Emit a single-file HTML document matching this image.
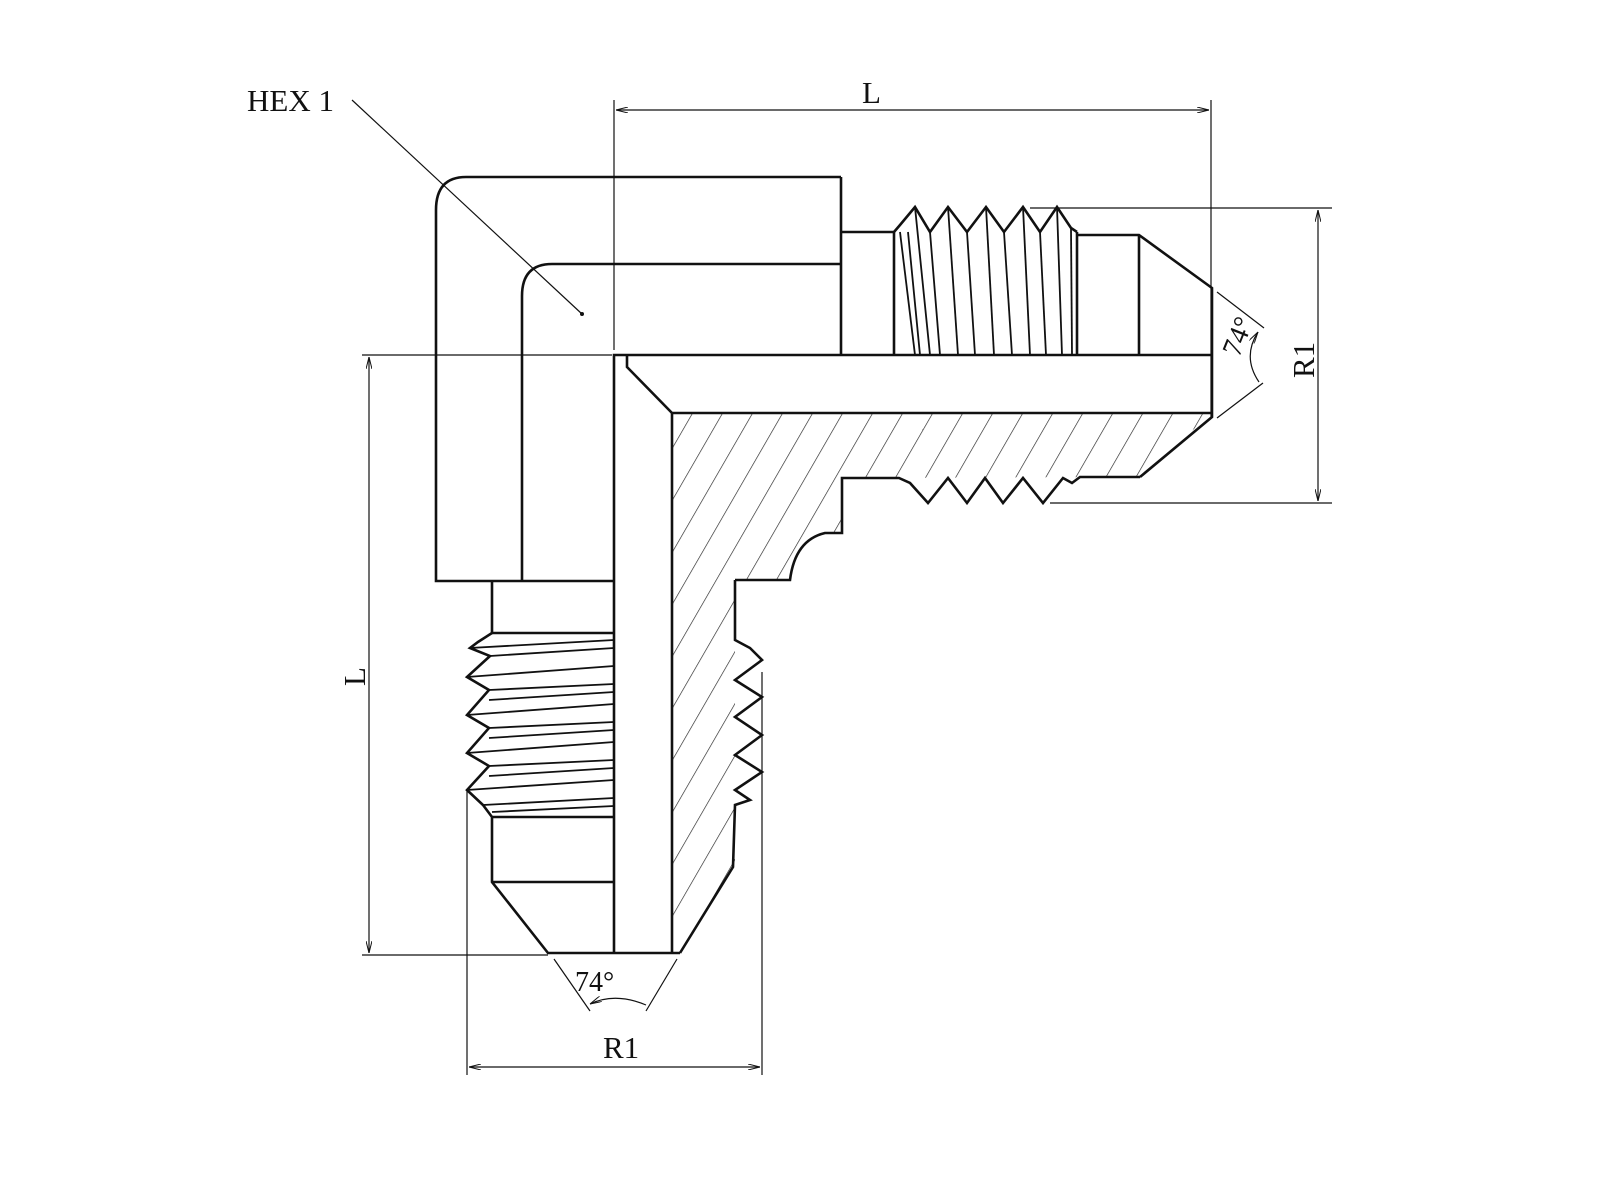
<!DOCTYPE html>
<html><head><meta charset="utf-8"><style>
html,body{margin:0;padding:0;background:#fff;}
svg{display:block;}
text{font-family:"Liberation Serif",serif;fill:#111;}
</style></head><body>
<svg width="1600" height="1200" viewBox="0 0 1600 1200" xmlns="http://www.w3.org/2000/svg">
<defs>
<pattern id="h" patternUnits="userSpaceOnUse" width="26" height="45" patternTransform="rotate(30)">
<line x1="0" y1="0" x2="0" y2="45" stroke="#222" stroke-width="1.3"/>
</pattern>
<marker id="a" viewBox="0 0 12 6" refX="12" refY="3" markerWidth="12" markerHeight="6" orient="auto-start-reverse" markerUnits="userSpaceOnUse">
<path d="M0,0 L12,3 L0,6" fill="none" stroke="#111" stroke-width="1"/>
</marker>
</defs>

<path d="M672,413 L1212,413 L1140,477 L842,478 L842,533 L825,533 Q795,540 790,580 L735,580 L735,867 L680,953 L672,953 Z" fill="url(#h)" stroke="none"/>

<g fill="none" stroke="#111" stroke-width="2.6" stroke-linejoin="miter">
<path d="M841,177 L466,177 Q436,177 436,210 L436,581 L614,581"/>
<path d="M841,264 L552,264 Q522,264 522,296 L522,581"/>
<line x1="841" y1="177" x2="841" y2="355"/>
<path d="M841,232 L894,232"/>
<path d="M894,232 L900,225 L915,207 L930,232 L948,207 L967,232 L986,207 L1004,232 L1023,207 L1040,232 L1057,207 L1071,228 L1077,232"/>
<line x1="894" y1="232" x2="894" y2="355"/>
<line x1="1077" y1="232" x2="1077" y2="355"/>
<path d="M1077,235 L1139,235 L1212,288 L1212,417 L1140,477"/>
<line x1="1139" y1="235" x2="1139" y2="355"/>
<path d="M614,953 L614,355 L1212,355"/>
<path d="M627,355 L627,367 L672,413 L1212,413"/>
<line x1="672" y1="413" x2="672" y2="953"/>
<path d="M1140,477 L1080,477 L1072,483 L1063,478 L1043,503 L1023,478 L1003,503 L985,478 L967,503 L948,478 L928,503 L910,483 L899,478 L842,478 L842,533 L825,533 Q795,540 790,580 L735,580"/>
<path d="M735,580 L735,640 L750,648 L762,660 L735,680 L762,697 L735,717 L762,735 L735,755 L762,772 L735,790 L750,800 L735,805 L733,867 L680,953"/>
<path d="M492,581 L492,633 L614,633"/>
<path d="M492,633 L478,642 L470,648 L490,656 L467,677 L489,690 L467,715 L489,728 L467,753 L489,766 L467,790 L483,805 L492,817 L492,882 L548,953 L680,953"/>
<line x1="492" y1="817" x2="614" y2="817"/>
<line x1="492" y1="882" x2="614" y2="882"/>
</g>
<g fill="none" stroke="#111" stroke-width="1.8">
<path d="M490,656 L614,648"/><path d="M470,648 L614,640"/>
<path d="M467,677 L614,666"/><path d="M489,690 L614,684"/>
<path d="M489,700 L614,692"/>
<path d="M467,715 L614,704"/><path d="M489,728 L614,722"/>
<path d="M489,738 L614,730"/>
<path d="M467,753 L614,742"/><path d="M489,766 L614,760"/>
<path d="M489,776 L614,768"/>
<path d="M467,790 L614,780"/><path d="M483,805 L614,798"/>
<path d="M492,812 L614,806"/>
<path d="M900,232 L915,355"/><path d="M915,207 L930,355"/>
<path d="M930,232 L940,355"/><path d="M948,207 L958,355"/>
<path d="M967,232 L975,355"/><path d="M986,207 L994,355"/>
<path d="M1004,232 L1012,355"/><path d="M1023,207 L1030,355"/>
<path d="M1040,232 L1046,355"/><path d="M1057,207 L1062,355"/>
<path d="M1071,228 L1072,355"/><path d="M908,232 L920,355"/>
</g>

<g fill="none" stroke="#111" stroke-width="1.2">
<line x1="614" y1="100" x2="614" y2="350"/>
<line x1="1211" y1="100" x2="1211" y2="417"/>
<line x1="616" y1="110" x2="1209" y2="110" marker-start="url(#a)" marker-end="url(#a)"/>
<line x1="1030" y1="208" x2="1332" y2="208"/>
<line x1="1050" y1="503" x2="1332" y2="503"/>
<line x1="1318" y1="210" x2="1318" y2="501" marker-start="url(#a)" marker-end="url(#a)"/>
<line x1="362" y1="355" x2="612" y2="355"/>
<line x1="362" y1="955" x2="548" y2="955"/>
<line x1="369" y1="357" x2="369" y2="953" marker-start="url(#a)" marker-end="url(#a)"/>
<line x1="467" y1="790" x2="467" y2="1075"/>
<line x1="762" y1="672" x2="762" y2="1075"/>
<line x1="469" y1="1067" x2="760" y2="1067" marker-start="url(#a)" marker-end="url(#a)"/>
<line x1="352" y1="100" x2="582" y2="314"/>
<line x1="1217" y1="292" x2="1264" y2="328"/>
<line x1="1217" y1="418" x2="1263" y2="383"/>
<path d="M1258,332 Q1242,357 1259,382" marker-start="url(#a)"/>
<line x1="554" y1="959" x2="590" y2="1011"/>
<line x1="677" y1="959" x2="646" y2="1011"/>
<path d="M590,1004 Q615,992 646,1005" marker-start="url(#a)"/>
</g>
<circle cx="582" cy="314" r="2" fill="#111"/>

<g font-size="31">
<text x="247" y="111">HEX 1</text>
<text x="862" y="103">L</text>
<text x="603" y="1058">R1</text>
<text transform="translate(1314,378) rotate(-90)">R1</text>
<text transform="translate(365,686) rotate(-90)">L</text>
<text x="575" y="991" font-size="28">74°</text>
<text transform="translate(1239,358) rotate(-68)" font-size="28">74°</text>
</g>
</svg>
</body></html>
